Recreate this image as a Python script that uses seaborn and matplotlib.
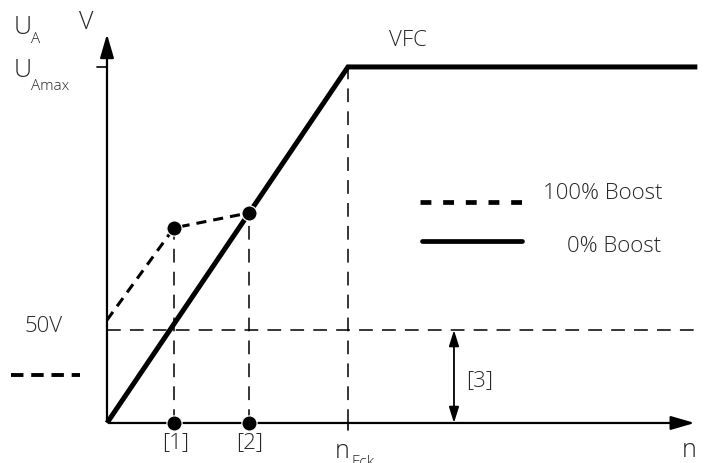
import numpy as np
import pandas as pd
import matplotlib
matplotlib.use("Agg")
import matplotlib.pyplot as plt
import seaborn as sns

# --- data (n relative to n_Eck, U relative to U_Amax) ---
vfc_n = [0.0, 1.0, 2.45]
vfc_u = [0.0, 1.0, 1.0]
boost_n = [0.0, 0.278, 0.589]
boost_u = [0.289, 0.548, 0.590]
u_50v = 0.261
point_labels = ["[1]", "[2]"]
point_n = [0.278, 0.589]
point_u = [0.548, 0.590]
n_eck = 1.0
n_end = 2.45
u_top = 1.1
bracket_n = 1.44
stub_n = [-0.40, -0.11]
stub_u = [0.135, 0.135]

sns.set_theme(style="white")
plt.rcParams['font.family'] = ['Open Sans', 'DejaVu Sans']

fig = plt.figure(figsize=(7.07, 4.63), dpi=100)
ax = fig.add_axes([0, 0, 1, 1])
ax.set_xlim(-0.444, 2.490)
ax.set_ylim(-0.1124, 1.188)
ax.axis("off")

# axes arrows
ax.annotate("", xy=(n_end, 0), xytext=(0, 0),
            arrowprops=dict(arrowstyle="-|>,head_length=1.2,head_width=0.35", color="black", lw=1.6))
ax.annotate("", xy=(0, u_top), xytext=(0, 0),
            arrowprops=dict(arrowstyle="-|>,head_length=1.2,head_width=0.35", color="black", lw=1.6))
ax.plot([-0.04, 0], [1, 1], color="black", lw=1.2)
ax.plot([n_eck, n_eck], [0, -0.02], color="black", lw=1.2)

# thin dashed helper lines
thin = dict(color="black", lw=1.1, dashes=(9, 6))
ax.plot([0, n_end], [u_50v, u_50v], **thin)
for pn, pu in zip(point_n, point_u):
    ax.plot([pn, pn], [0, pu], **thin)
ax.plot([n_eck, n_eck], [0, 1], **thin)

# curves
df_vfc = pd.DataFrame({"n": vfc_n, "U": vfc_u})
df_boost = pd.DataFrame({"n": boost_n, "U": boost_u})
sns.lineplot(data=df_vfc, x="n", y="U", ax=ax, color="black", lw=3.6, sort=False)
ax.lines[-1].set_solid_joinstyle("miter")
ax.lines[-1].set_solid_capstyle("butt")
sns.lineplot(data=df_boost, x="n", y="U", ax=ax, color="black", lw=2.2, sort=False)
ax.lines[-1].set_dashes((3.3, 2.3))

# points
sns.scatterplot(x=point_n, y=point_u, ax=ax, color="black", s=120, zorder=5)
sns.scatterplot(x=point_n, y=[0, 0], ax=ax, color="black", s=120, zorder=5, clip_on=False)

# legend-like key
fs = 16
ax.plot([1.30, 1.74], [0.621, 0.621], color="black", lw=3.4, dashes=(2.3, 2.5))
ax.plot([1.308, 1.722], [0.512, 0.512], color="black", lw=3.4)
ax.text(1.81, 0.645, "100% Boost", fontsize=fs, va="center", ha="left", fontweight="light")
ax.text(1.91, 0.497, "0% Boost", fontsize=fs, va="center", ha="left", fontweight="light")

# left stub
ax.plot(stub_n, stub_u, color="black", lw=2.8, dashes=(3.2, 2.0))

# double arrow [3]
ax.annotate("", xy=(bracket_n, u_50v), xytext=(bracket_n, 0),
            arrowprops=dict(arrowstyle="<|-|>,head_length=0.8,head_width=0.25", color="black", lw=1.3,
                            shrinkA=0, shrinkB=0))
ax.text(bracket_n + 0.05, 0.12, "[3]", fontsize=fs, va="center", ha="left", fontweight="light")

# labels
big = 18
sub = 11
ax.text(-0.351, 1.112, "U", fontsize=big, va="center", ha="center", fontweight="light")
ax.text(-0.296, 1.076, "A", fontsize=sub, va="center", ha="center", fontweight="light")
ax.text(-0.087, 1.125, "V", fontsize=big, va="center", ha="center", fontweight="light")
ax.text(-0.351, 0.99, "U", fontsize=big, va="center", ha="center", fontweight="light")
ax.text(-0.315, 0.945, "Amax", fontsize=sub, va="center", ha="left", fontweight="light")
ax.text(1.25, 1.075, "VFC", fontsize=fs, va="center", ha="center", fontweight="light")
ax.text(-0.265, 0.27, "50V", fontsize=fs, va="center", ha="center", fontweight="light")
for lab, pn in zip(point_labels, point_n):
    ax.text(pn + 0.005, -0.055, lab, fontsize=fs, va="center", ha="center", fontweight="light")
ax.text(0.975, -0.08, "n", fontsize=big, va="center", ha="center", fontweight="light")
ax.text(1.015, -0.11, "Eck", fontsize=sub, va="center", ha="left", fontweight="light")
ax.text(2.415, -0.078, "n", fontsize=big, va="center", ha="center", fontweight="light")

fig.savefig("out.png", dpi=100)
